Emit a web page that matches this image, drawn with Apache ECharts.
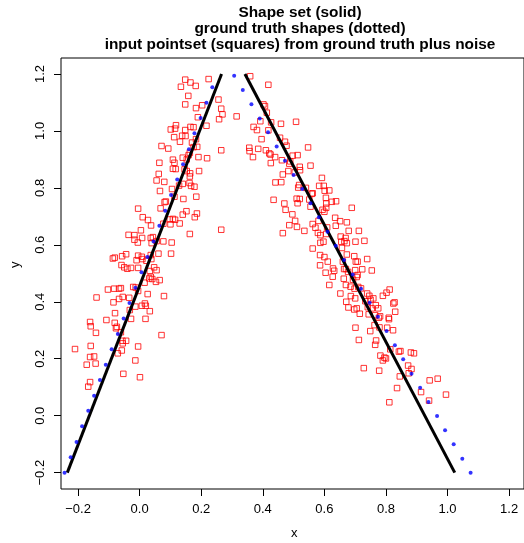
<!DOCTYPE html>
<html>
<head>
<meta charset="utf-8">
<script src="https://cdn.jsdelivr.net/npm/echarts@6/dist/echarts.min.js"></script>
<style>
html,body{margin:0;padding:0;background:#fff;}
#chart{width:524px;height:543px;}
</style>
</head>
<body>
<div id="chart"></div>
<script>
// Tick values
var xTicks = [-0.2, 0.0, 0.2, 0.4, 0.6, 0.8, 1.0, 1.2];
var yTicks = [-0.2, 0.0, 0.2, 0.4, 0.6, 0.8, 1.0, 1.2];

// Shape set (solid lines): endpoints
var shapeLeftX = [-0.235, 0.266];
var shapeLeftY = [-0.200, 1.200];
var shapeRightX = [0.342, 1.0235];
var shapeRightY = [1.200, -0.200];

// Ground truth shapes (dotted)
var truthLeftX = [-0.244,-0.224,-0.205,-0.187,-0.167,-0.148,-0.129,-0.110,-0.091,-0.071,-0.052,-0.033,-0.014,0.006,0.025,0.045,0.064,0.083,0.102,0.122,0.141,0.160,0.178,0.198,0.217,0.236];
var truthLeftY = [-0.200,-0.146,-0.092,-0.037,0.017,0.070,0.125,0.179,0.233,0.287,0.341,0.396,0.449,0.504,0.557,0.612,0.667,0.720,0.775,0.829,0.883,0.936,0.992,1.045,1.099,1.153];
var truthRightX = [0.307,0.335,0.363,0.390,0.417,0.445,0.472,0.500,0.528,0.555,0.582,0.610,0.637,0.664,0.692,0.719,0.747,0.774,0.802,0.829,0.856,0.883,0.911,0.938,0.966,0.992,1.020,1.048,1.075];
var truthRightY = [1.194,1.144,1.094,1.044,0.995,0.945,0.895,0.845,0.796,0.746,0.697,0.646,0.597,0.547,0.496,0.446,0.397,0.347,0.297,0.247,0.198,0.147,0.098,0.048,-0.001,-0.051,-0.100,-0.151,-0.200];

// Input pointset (squares)
var noiseX = [
0.148,0.165,0.134,0.182,0.224,0.158,0.148,0.183,0.203,0.256,0.265,0.269,0.258,0.315,0.189,0.118,0.101,0.115,0.148,0.165,
0.175,0.217,0.112,0.138,0.131,0.149,0.183,0.170,0.175,0.187,0.071,0.093,0.265,0.163,0.159,0.153,0.140,0.108,0.113,0.064,
0.191,0.219,0.108,0.117,0.146,0.164,0.163,0.153,0.193,0.062,0.055,0.080,0.128,0.140,0.162,0.167,0.178,0.105,0.066,0.113,
0.142,0.184,0.081,0.085,0.068,-0.005,0.152,0.140,0.186,0.179,0.010,0.027,0.037,0.077,0.098,0.108,0.115,0.130,0.100,0.004,
0.265,0.163,-0.036,-0.017,-0.017,-0.006,0.008,0.036,0.043,0.055,0.077,0.104,0.039,
-0.044,-0.057,-0.081,-0.087,-0.005,-0.010,0.009,0.007,0.036,0.038,0.061,0.102,-0.059,-0.050,-0.040,-0.028,-0.005,0.022,0.047,0.055,
0.033,0.036,0.031,0.041,0.053,0.065,0.016,-0.103,-0.083,-0.067,-0.061,-0.021,-0.005,-0.013,-0.140,-0.055,-0.067,-0.085,-0.034,0.026,
0.079,0.007,0.020,0.017,-0.014,-0.032,0.033,-0.080,-0.108,-0.081,-0.074,-0.077,-0.161,-0.159,-0.142,-0.028,0.019,0.071,-0.061,-0.056,
-0.044,-0.055,-0.159,-0.005,-0.210,-0.071,-0.058,-0.161,-0.148,-0.172,-0.143,-0.014,-0.053,0.001,-0.161,-0.167,
0.359,0.418,0.402,0.407,0.413,0.392,0.370,0.381,0.427,0.459,0.508,0.418,0.396,0.456,0.472,0.477,0.385,0.410,0.356,0.357,
0.368,0.421,0.425,0.440,0.426,0.462,0.497,0.513,0.547,0.486,0.489,0.520,0.521,0.555,0.465,0.483,0.504,0.441,0.460,0.592,
0.583,0.598,0.616,0.601,0.518,0.515,0.540,0.562,0.559,0.435,0.470,0.510,0.520,0.513,0.551,0.555,0.605,0.606,0.624,0.638,
0.689,0.474,0.496,0.594,0.600,0.606,0.505,0.635,0.651,0.673,0.679,0.712,0.730,0.701,0.669,0.653,0.665,0.673,0.486,0.511,
0.535,0.562,0.571,0.581,0.609,0.637,0.579,0.587,0.606,0.465,0.597,0.587,0.655,
0.562,0.586,0.600,0.611,0.586,0.604,0.627,0.628,0.632,0.657,0.673,0.697,0.702,0.708,0.739,0.754,0.660,0.664,0.677,0.670,
0.700,0.723,0.708,0.705,0.693,0.616,0.663,0.670,0.685,0.698,0.710,0.719,0.652,0.686,0.700,0.671,0.678,0.697,0.705,0.715,
0.739,0.746,0.750,0.759,0.733,0.741,0.754,0.767,0.775,0.744,0.765,0.790,0.802,0.812,0.824,0.828,0.830,0.777,0.781,0.809,
0.810,0.763,0.779,0.749,0.804,0.823,0.701,0.712,0.768,0.765,0.814,0.842,0.847,0.881,0.891,0.795,0.782,0.790,0.800,0.728,
0.778,0.845,0.872,0.883,0.874,0.942,0.914,0.836,0.811,0.940,0.968,0.995
];
var noiseY = [
1.180,1.170,1.155,1.158,1.182,1.123,1.093,1.080,1.090,1.110,1.078,1.058,1.041,1.051,1.048,1.020,1.005,1.008,1.003,1.014,
1.013,1.018,0.978,0.983,0.962,0.982,0.971,0.959,0.943,0.944,0.947,0.938,0.932,0.923,0.915,0.900,0.906,0.899,0.888,0.888,
0.908,0.904,0.867,0.866,0.865,0.851,0.840,0.859,0.859,0.849,0.826,0.821,0.808,0.814,0.817,0.807,0.804,0.796,0.789,0.769,
0.761,0.769,0.750,0.752,0.728,0.727,0.718,0.706,0.710,0.697,0.697,0.687,0.668,0.674,0.689,0.691,0.688,0.675,0.672,0.651,
0.653,0.638,0.635,0.634,0.618,0.608,0.624,0.624,0.627,0.613,0.612,0.608,0.606,
0.567,0.560,0.555,0.552,0.562,0.546,0.550,0.558,0.564,0.550,0.569,0.569,0.529,0.521,0.516,0.519,0.519,0.544,0.521,0.511,
0.508,0.488,0.482,0.480,0.470,0.476,0.467,0.443,0.446,0.446,0.448,0.452,0.438,0.450,0.415,0.417,0.410,0.398,0.414,0.427,
0.420,0.386,0.386,0.394,0.383,0.371,0.367,0.360,0.336,0.326,0.312,0.307,0.329,0.314,0.291,0.340,0.340,0.283,0.293,0.263,
0.263,0.254,0.245,0.243,0.234,0.219,0.229,0.206,0.208,0.179,0.183,0.194,0.147,0.135,0.118,0.102,
1.192,1.162,1.093,1.087,1.064,1.034,1.014,1.003,1.030,1.025,1.032,1.002,0.971,0.976,0.962,0.948,0.937,0.932,0.941,0.929,
0.908,0.921,0.917,0.908,0.887,0.897,0.913,0.915,0.942,0.885,0.893,0.874,0.862,0.878,0.847,0.859,0.854,0.819,0.820,0.835,
0.807,0.807,0.791,0.790,0.810,0.801,0.800,0.781,0.779,0.758,0.745,0.762,0.761,0.746,0.759,0.734,0.765,0.745,0.751,0.753,
0.730,0.723,0.707,0.723,0.716,0.730,0.684,0.695,0.683,0.679,0.649,0.649,0.614,0.611,0.624,0.629,0.613,0.606,0.669,0.663,
0.649,0.673,0.660,0.684,0.661,0.667,0.642,0.634,0.638,0.641,0.611,0.607,0.611,
0.587,0.564,0.557,0.541,0.528,0.502,0.488,0.517,0.509,0.589,0.566,0.560,0.541,0.541,0.550,0.510,0.541,0.515,0.505,0.515,
0.511,0.514,0.494,0.487,0.477,0.459,0.481,0.459,0.453,0.446,0.452,0.447,0.429,0.420,0.412,0.400,0.380,0.373,0.377,0.358,
0.429,0.421,0.407,0.412,0.402,0.381,0.377,0.388,0.377,0.356,0.353,0.421,0.432,0.443,0.394,0.398,0.365,0.344,0.349,0.344,
0.339,0.318,0.310,0.297,0.309,0.300,0.309,0.266,0.264,0.249,0.233,0.225,0.227,0.222,0.219,0.204,0.211,0.194,0.201,0.167,
0.158,0.138,0.176,0.164,0.149,0.124,0.083,0.097,0.047,0.053,0.130,0.074
];

var titleLines = ['Shape set (solid)', 'ground truth shapes (dotted)', 'input pointset (squares) from ground truth plus noise'];
var xName = 'x';
var yName = 'y';

function zip(a, b) { var r = []; for (var i = 0; i < a.length; i++) r.push([a[i], b[i]]); return r; }
function fmt(v) { var s = (Math.round(v * 10) / 10).toFixed(1); return s.replace('-', '\u2212'); }

var FONT = 'Liberation Sans, Arial, Helvetica, sans-serif';
var chart = echarts.init(document.getElementById('chart'), null, { renderer: 'canvas' });
chart.setOption({
  animation: false,
  backgroundColor: '#ffffff',
  title: {
    text: titleLines.join('\n'),
    left: 295, top: 0, textAlign: 'center',
    textStyle: { fontFamily: FONT, fontSize: 15.4, fontWeight: 'bold', color: '#000', lineHeight: 16 }
  },
  grid: { left: 61, top: 58, right: -5, bottom: 54, show: true, borderColor: '#000', borderWidth: 1, backgroundColor: 'transparent' },
  xAxis: {
    type: 'value', min: -0.2555, max: 1.2484,
    splitLine: { show: false },
    axisLine: { show: false, onZero: false },
    axisTick: { show: true, length: 7, lineStyle: { color: '#000' }, customValues: xTicks },
    axisLabel: { customValues: xTicks, formatter: fmt, color: '#000', fontSize: 13, fontFamily: FONT, margin: 14 }
  },
  yAxis: {
    type: 'value', min: -0.2574, max: 1.256,
    splitLine: { show: false },
    axisLine: { show: false, onZero: false },
    axisTick: { show: true, length: 7, lineStyle: { color: '#000' }, customValues: yTicks },
    axisLabel: { customValues: yTicks, formatter: fmt, color: '#000', fontSize: 13, fontFamily: FONT, margin: 14, rotate: 90 }
  },
  graphic: [
    { type: 'text', left: 291, top: 527, style: { text: xName, font: '13px ' + FONT, fill: '#000' } },
    { type: 'text', x: 9, y: 268, rotation: Math.PI / 2, style: { text: yName, font: '13px ' + FONT, fill: '#000' } }
  ],
  series: [
    { type: 'scatter', name: 'noise', data: zip(noiseX, noiseY), symbol: 'rect', symbolSize: 5.5,
      itemStyle: { color: 'rgba(0,0,0,0)', borderColor: '#ff0000', borderWidth: 1 }, z: 1 },
    { type: 'line', data: zip(shapeLeftX, shapeLeftY), showSymbol: false, lineStyle: { color: '#000', width: 3 }, z: 2 },
    { type: 'line', data: zip(shapeRightX, shapeRightY), showSymbol: false, lineStyle: { color: '#000', width: 3 }, z: 2 },
    { type: 'scatter', data: zip(truthLeftX, truthLeftY), symbol: 'circle', symbolSize: 4, itemStyle: { color: '#0000ff' }, z: 3 },
    { type: 'scatter', data: zip(truthRightX, truthRightY), symbol: 'circle', symbolSize: 4, itemStyle: { color: '#0000ff' }, z: 3 }
  ]
});
</script>
</body>
</html>
